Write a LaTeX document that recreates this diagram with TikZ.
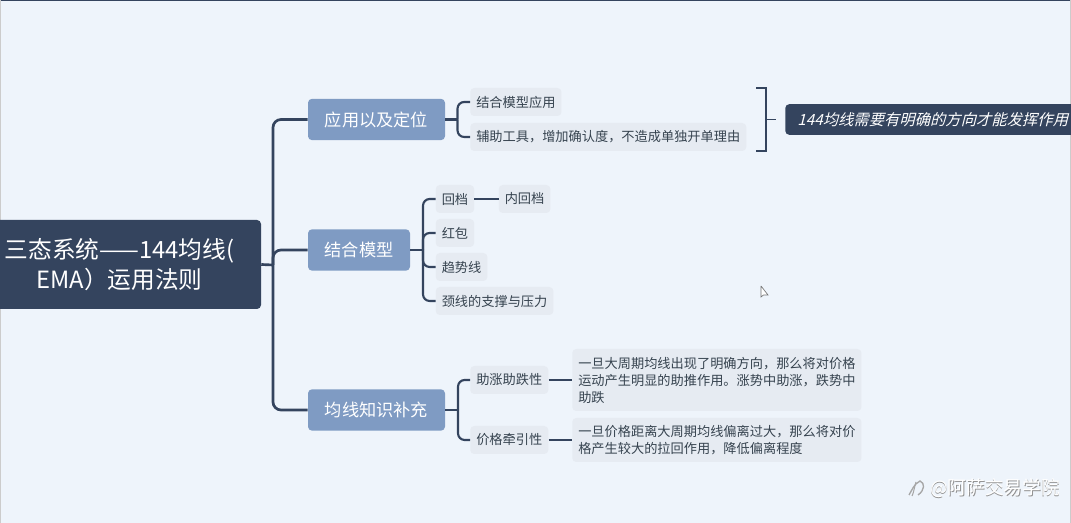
\documentclass[tikz,border=0pt]{standalone}
\usepackage{fontspec}
\setmainfont{Noto Sans CJK SC}
\newfontfamily\slantfont[FakeSlant=0.25]{Noto Sans CJK SC}
\definecolor{paper}{HTML}{EEF4FB}
\definecolor{slate}{HTML}{34445E}
\definecolor{steel}{HTML}{7F9BC3}
\definecolor{chip}{HTML}{E6EBF2}
\definecolor{chiptext}{HTML}{36434F}
\tikzstyle{every node}=[anchor=west,rounded corners=3pt,inner ysep=0pt]
\tikzstyle{root}=[fill=slate,text=white,font=\fontsize{17.8pt}{22.5pt}\selectfont,align=center,anchor=center,minimum width=212.25pt,minimum height=66.75pt]
\tikzstyle{topic}=[fill=steel,text=white,font=\fontsize{12.9pt}{15pt}\selectfont,anchor=center,minimum height=31pt]
\tikzstyle{item}=[fill=chip,text=chiptext,font=\fontsize{9.9pt}{12.75pt}\selectfont,inner xsep=4.5pt,minimum height=21pt,align=left]
\tikzstyle{branch}=[draw=slate,line width=2pt,rounded corners=6pt]
\tikzstyle{twig}=[draw=slate,line width=1.6pt,rounded corners=5pt]
\tikzstyle{link}=[draw=slate,line width=1.6pt]
\tikzstyle{stamp}=[font=\fontsize{14pt}{16pt}\selectfont,inner xsep=0pt]
\begin{document}
\begin{tikzpicture}[x=0.75pt,y=-0.75pt]
    \clip (0,0) rectangle (1071,523);
    \fill[paper] (0,0) rectangle (1071,523);
    \draw[slate,line width=1pt] (0,0) -- (1071,0);
    \draw[gray!40,line width=0.75pt] (1070,0) -- (1070,523);
    \draw[gray!40,line width=0.75pt] (0,0) -- (0,523);
    % main nodes
    \node[root] (system) at (119.5,264.5) {三态系统——144均线(\\EMA）运用法则};
    \node[topic,minimum width=102.75pt] (locate) at (376.5,119.5) {应用以及定位};
    \node[topic,minimum width=76.5pt] (model) at (359,250) {结合模型};
    \node[topic,minimum width=102.75pt] (extra) at (376.5,410) {均线知识补充};
    % first group
    \node[item] (modeluse) at (470,102) {结合模型应用};
    \node[item] (tools) at (470,137) {辅助工具，增加确认度，不造成单独开单理由};
    \node[fill=slate,text=white,font=\fontsize{11.5pt}{13pt}\slantfont,minimum height=23pt,inner xsep=9pt,text width=215pt,align=left] (direction) at (785,119.5) {144均线需要有明确的方向才能发挥作用};
    % second group
    \node[item] (pullback) at (435.5,199) {回档};
    \node[item] (inner) at (498.5,199) {内回档};
    \node[item] (redbag) at (435.5,233) {红包};
    \node[item] (trendline) at (435.5,267) {趋势线};
    \node[item] (neckline) at (435.5,301) {颈线的支撑与压力};
    % third group
    \node[item] (boost) at (470,380) {助涨助跌性};
    \node[item] (pull) at (470,440) {价格牵引性};
    \node[item,minimum height=46.5pt] (boosttext) at (572,380) {一旦大周期均线出现了明确方向，那么将对价格\\运动产生明显的助推作用。涨势中助涨，跌势中\\助跌};
    \node[item,minimum height=33pt] (pulltext) at (572,440) {一旦价格距离大周期均线偏离过大，那么将对价\\格产生较大的拉回作用，降低偏离程度};
    % connectors
    \coordinate (trunk) at (273,265);
    \draw[branch] (system.east) -- (trunk);
    \draw[branch] (trunk) |- (locate.west);
    \draw[branch] (trunk) |- (model.west);
    \draw[branch] (trunk) |- (extra.west);
    \coordinate (forkA) at (457.5,119.5);
    \draw[twig] (locate.east) -- (forkA);
    \draw[twig] (forkA) |- (modeluse.west);
    \draw[twig] (forkA) |- (tools.west);
    \coordinate (forkB) at (423,250);
    \draw[twig] (model.east) -- (forkB);
    \draw[twig] (forkB) |- (pullback.west);
    \draw[twig] (forkB) |- (redbag.west);
    \draw[twig] (forkB) |- (trendline.west);
    \draw[twig] (forkB) |- (neckline.west);
    \coordinate (forkC) at (458,410);
    \draw[twig] (extra.east) -- (forkC);
    \draw[twig] (forkC) |- (boost.west);
    \draw[twig] (forkC) |- (pull.west);
    \draw[link] (pullback.east) -- (inner.west);
    \draw[link] (boost.east) -- (boosttext.west);
    \draw[link] (pull.east) -- (pulltext.west);
    % bracket
    \coordinate (bracketA) at (756,88);
    \coordinate (bracketB) at (756,151);
    \coordinate (bracketC) at (766,119.5);
    \draw[link] (bracketA) -- (766,88) -- (766,151) -- (bracketB);
    \draw[link,line width=1.2pt] (bracketC) -- (776,119.5);
    % pointer
    \draw[gray!90!black,fill=white,line width=0.5pt] (761,286) -- (761,297) -- (763.5,295) -- (768,295) -- (761,286);
    % mark in the corner
    \draw[gray!70,line width=1pt] (909,495) .. controls (912,490) and (914,484) .. (920,481) .. controls (925,483) and (925,490) .. (918,495);
    \draw[gray!70,line width=0.8pt] (916,482) .. controls (914,488) and (914,492) .. (912,496);
    \node[stamp,text=gray!85] (markshadow) at (930.7,488.7) {@阿萨交易学院};
    \node[stamp,text=white] (marktext) at (930,488) {@阿萨交易学院};
\end{tikzpicture}
\end{document}
